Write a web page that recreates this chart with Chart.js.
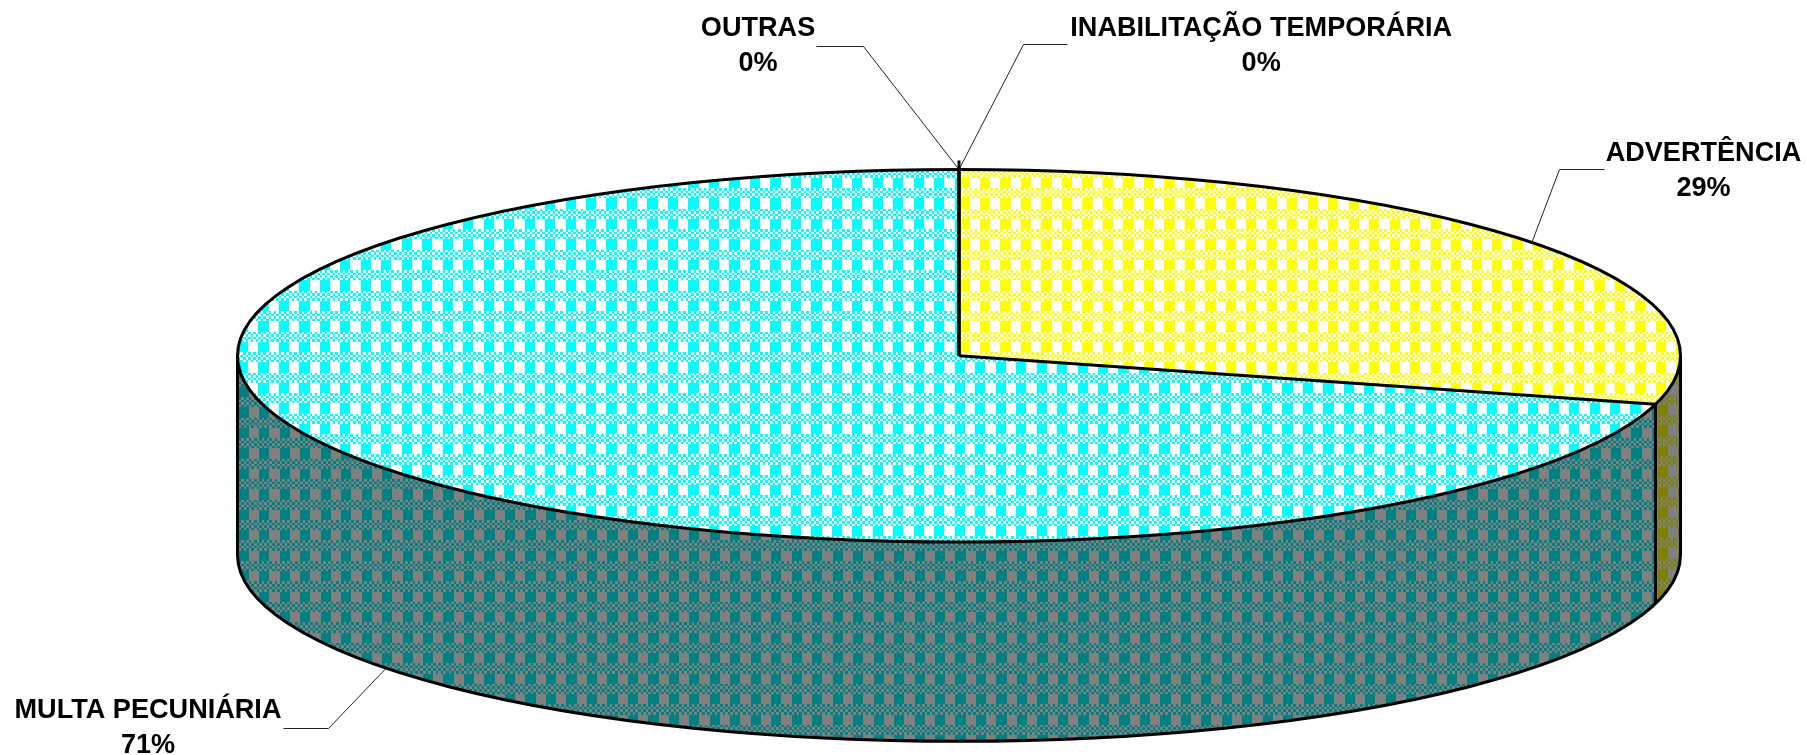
<!DOCTYPE html>
<html><head><meta charset="utf-8">
<style>html,body{margin:0;padding:0;background:#fff;overflow:hidden}canvas{display:block}</style>
<script src="https://cdn.jsdelivr.net/npm/chart.js@4"></script>
</head><body><canvas id="c" width="1807" height="755"></canvas>
<script>
const categories = ['INABILITAÇÃO TEMPORÁRIA','ADVERTÊNCIA','MULTA PECUNIÁRIA','OUTRAS'];
const values = [0,29.2,70.8,0];
const topColors = ['#ffff00','#ffff00','#00ffff','#00ffff'];
const sideColors = ['#808000','#808000','#008080','#008080'];

const W=1807,H=755,CX=959,CY=355.75,RX=721.5,RY=186.25,DEPTH=199.3,K=RY/RX;
const CELL=2.56,FONT='bold 27.1px "Liberation Sans", Arial, sans-serif',LINE=35;
// label placement: text centre, first baseline, leader elbow and leader end
const labelLayout=[
 {tx:1261.2,ty:36,elbow:[1023,44],end:[1067,44]},
 {tx:1703.5,ty:161,elbow:[1559,169],end:[1604,169]},
 {tx:148,ty:718,elbow:[328,728],end:[283,728]},
 {tx:758,ty:36,elbow:[863,46],end:[816,46]}
];
// per-slice hatch origin (block top-left)
const topOrigin=[[980,178],[980,178],[893.2,178],[893.2,178]];
const sideOrigin=[[1658,405],[1658,405],[607.3,550.7],[607.3,550.7]];

function tile(fg,bg){
  const c=document.createElement('canvas');c.width=c.height=8;
  const x=c.getContext('2d');
  x.fillStyle=bg;x.fillRect(0,0,8,8);x.fillStyle=fg;
  for(let r=0;r<8;r++)for(let q=0;q<8;q++){
    // rows 0-3 solid block + gap, rows 4-7 fine check
    const on=r<4?q<4:((r+q)%2===0);
    if(on)x.fillRect(q,r,1,1);
  }
  return c;
}
function hatch(fg,bg,o,squash){
  const p=document.createElement('canvas').getContext('2d').createPattern(tile(fg,bg),'repeat');
  let m=new DOMMatrix();
  if(squash){m=m.translate(CX,CY).scale(1,1/K).translate(-CX,-CY);}
  m=m.translate(o[0],o[1]).scale(CELL,CELL);
  p.setTransform(m);
  return p;
}
const topFill=topColors.map((c,i)=>hatch(c,'#ffffff',topOrigin[i],true));
const sideFill=sideColors.map((c,i)=>hatch(c,'#808080',sideOrigin[i],false));

const pie3d={
  id:'pie3d',
  beforeDatasetsDraw(chart){
    const ctx=chart.ctx,arcs=chart.getDatasetMeta(0).data;
    ctx.save();ctx.imageSmoothingEnabled=false;
    arcs.forEach((a,i)=>{
      const s=Math.max(a.startAngle,0),e=Math.min(a.endAngle,Math.PI);
      if(e<=s)return;
      ctx.beginPath();
      ctx.ellipse(a.x,a.y,RX,RY,0,s,e);
      ctx.ellipse(a.x,a.y+DEPTH,RX,RY,0,e,s,true);
      ctx.closePath();ctx.fillStyle=sideFill[i];ctx.fill();
    });
    ctx.restore();
  },
  beforeDatasetDraw(chart){
    const ctx=chart.ctx;ctx.save();ctx.imageSmoothingEnabled=false;
    ctx.translate(CX,CY);ctx.scale(1,K);ctx.translate(-CX,-CY);
  },
  afterDatasetDraw(chart){chart.ctx.restore();},
  afterDatasetsDraw(chart){
    const ctx=chart.ctx,arcs=chart.getDatasetMeta(0).data,total=values.reduce((p,v)=>p+v,0);
    ctx.save();ctx.strokeStyle='#000';ctx.lineWidth=3;ctx.lineJoin='round';
    // walls outline
    ctx.beginPath();
    ctx.moveTo(CX+RX,CY);ctx.lineTo(CX+RX,CY+DEPTH);
    ctx.ellipse(CX,CY+DEPTH,RX,RY,0,0,Math.PI);
    ctx.lineTo(CX-RX,CY);ctx.stroke();
    // top rim
    ctx.beginPath();ctx.ellipse(CX,CY,RX,RY,0,0,Math.PI*2);ctx.stroke();
    // slice dividers and wall edge
    arcs.forEach(a=>{
      const ang=a.startAngle,px=CX+RX*Math.cos(ang),py=CY+RY*Math.sin(ang);
      ctx.beginPath();ctx.moveTo(CX,CY);
      ctx.lineTo(px,py);ctx.stroke();
      if(ang>0&&ang<Math.PI){
        ctx.beginPath();ctx.moveTo(px,py);ctx.lineTo(px,py+DEPTH);ctx.stroke();
      }
    });
    // leaders
    ctx.lineWidth=1;ctx.strokeStyle='#222';
    arcs.forEach((a,i)=>{
      const L=labelLayout[i],mid=(a.startAngle+a.endAngle)/2;
      const sn=Math.sin(mid),ax=CX+RX*Math.cos(mid),ay=CY+RY*sn+(sn>0?DEPTH:0);
      ctx.beginPath();ctx.moveTo(L.end[0]+.5,L.end[1]+.5);ctx.lineTo(L.elbow[0]+.5,L.elbow[1]+.5);ctx.lineTo(ax,ay);ctx.stroke();
    });
    // stub where the zero slices sit
    ctx.lineWidth=3;ctx.strokeStyle='#000';
    ctx.beginPath();ctx.moveTo(CX,CY-RY);ctx.lineTo(CX,CY-RY-9);ctx.stroke();
    // labels
    ctx.fillStyle='#000';ctx.font=FONT;ctx.textAlign='center';ctx.textBaseline='alphabetic';
    categories.forEach((t,i)=>{
      const L=labelLayout[i];
      ctx.fillText(t,L.tx,L.ty);
      ctx.fillText(Math.round(values[i]/total*100)+'%',L.tx,L.ty+LINE);
    });
    ctx.restore();
  }
};

new Chart(document.getElementById('c'),{
  type:'pie',
  data:{labels:categories,datasets:[{data:values,backgroundColor:topFill,borderWidth:0,clip:false,hoverOffset:0}]},
  options:{
    responsive:false,animation:false,devicePixelRatio:1,radius:RX,
    layout:{padding:{left:2*CX-W,right:0,top:0,bottom:H-2*CY}},
    plugins:{legend:{display:false},tooltip:{enabled:false}},
    events:[]
  },
  plugins:[pie3d]
});
</script></body></html>
